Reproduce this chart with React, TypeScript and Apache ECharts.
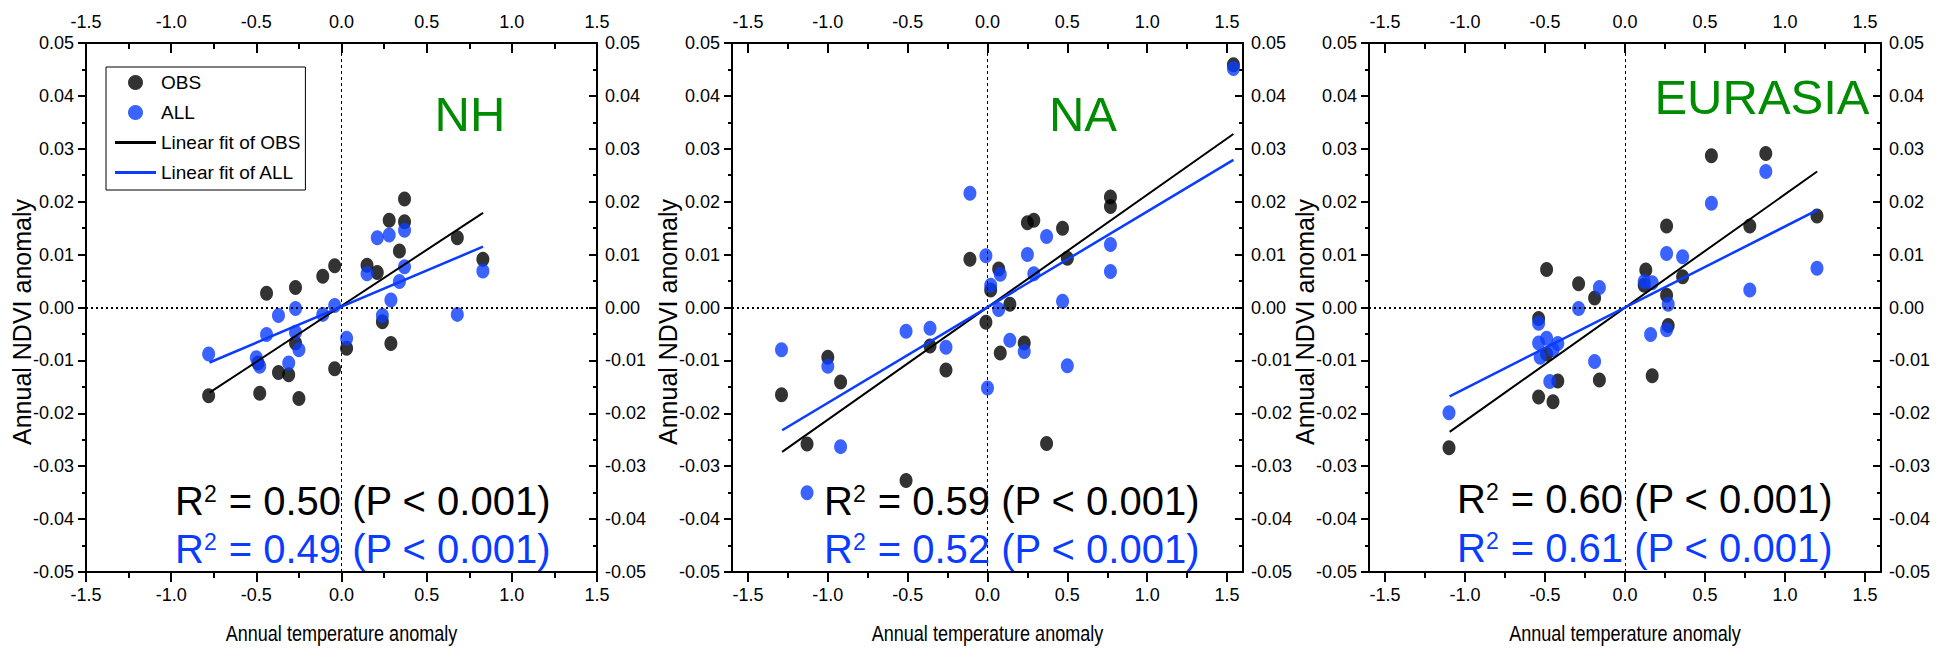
import React, { useEffect, useRef } from "react";
import * as echarts from "echarts";

// ---------- data ----------
const panelNames = ["NH", "NA", "EURASIA"];
const xMajor = [-1.5, -1, -0.5, 0, 0.5, 1, 1.5];
const xMinor = [-1.25, -0.75, -0.25, 0.25, 0.75, 1.25];
const xRanges = [[-1.5, 1.5], [-1.6, 1.6], [-1.6, 1.6]];
const yRange = [-0.05, 0.05];
const r2Obs = ["0.50", "0.59", "0.60"];
const r2All = ["0.49", "0.52", "0.61"];
const legendNames = ["OBS", "ALL", "Linear fit of OBS", "Linear fit of ALL"];

const nhObs = [
  [-0.78, -0.0167], [-0.48, -0.0162], [-0.49, -0.0105], [-0.44, 0.0027], [-0.37, -0.0123],
  [-0.31, -0.0127], [-0.27, 0.0038], [-0.27, -0.0067], [-0.25, -0.0172], [-0.11, 0.0059],
  [-0.04, 0.0079], [-0.04, -0.0116], [0.03, -0.0077], [0.15, 0.008], [0.21, 0.0066],
  [0.24, -0.0027], [0.28, 0.0165], [0.29, -0.0068], [0.34, 0.0107], [0.37, 0.0205],
  [0.37, 0.0162], [0.68, 0.0132], [0.83, 0.0091],
];
const nhAll = [
  [-0.78, -0.0088], [-0.5, -0.0095], [-0.48, -0.0111], [-0.44, -0.0051], [-0.37, -0.0015],
  [-0.31, -0.0105], [-0.27, -0.0002], [-0.27, -0.0047], [-0.25, -0.008], [-0.11, -0.0013],
  [-0.04, 0.0004], [0.03, -0.0058], [0.15, 0.0064], [0.21, 0.0132], [0.24, -0.0015],
  [0.28, 0.0137], [0.29, 0.0014], [0.34, 0.0049], [0.37, 0.0146], [0.37, 0.0077],
  [0.68, -0.0013], [0.83, 0.0069],
];
const nhObsFit = [[-0.775, -0.0161], [0.831, 0.0179]];
const nhAllFit = [[-0.775, -0.0104], [0.831, 0.0115]];

const naObs = [
  [-1.29, -0.0165], [-1.13, -0.0258], [-1.0, -0.0094], [-0.92, -0.0141], [-0.51, -0.0327],
  [-0.36, -0.0073], [-0.26, -0.0118], [-0.11, 0.0091], [-0.01, -0.0028], [0.02, 0.0033],
  [0.07, 0.0073], [0.08, -0.0086], [0.14, 0.0006], [0.23, -0.0067], [0.25, 0.016],
  [0.29, 0.0165], [0.37, -0.0257], [0.47, 0.015], [0.5, 0.0093], [0.77, 0.0209],
  [0.77, 0.0191], [1.54, 0.0459],
];
const naAll = [
  [-1.29, -0.008], [-1.13, -0.035], [-1.0, -0.0111], [-0.92, -0.0263], [-0.51, -0.0045],
  [-0.36, -0.0039], [-0.26, -0.0075], [-0.11, 0.0216], [-0.01, 0.0098], [0.0, -0.0152],
  [0.02, 0.0042], [0.07, -0.0004], [0.08, 0.0063], [0.14, -0.0062], [0.23, -0.0083],
  [0.25, 0.01], [0.29, 0.0064], [0.37, 0.0134], [0.47, 0.0012], [0.5, -0.011],
  [0.77, 0.0119], [0.77, 0.0068], [1.54, 0.0452],
];
const naObsFit = [[-1.286, -0.0273], [1.54, 0.0328]];
const naAllFit = [[-1.286, -0.0232], [1.54, 0.0279]];

const euObs = [
  [-1.1, -0.0265], [-0.54, -0.0021], [-0.54, -0.0169], [-0.49, 0.0072], [-0.49, -0.0088],
  [-0.45, -0.0178], [-0.42, -0.0139], [-0.29, 0.0045], [-0.19, 0.0018], [-0.16, -0.0137],
  [0.12, 0.0042], [0.13, 0.0071], [0.17, -0.0129], [0.26, 0.0154], [0.26, 0.0023],
  [0.27, -0.0034], [0.36, 0.0058], [0.54, 0.0287], [0.78, 0.0154], [0.88, 0.0291],
  [1.2, 0.0173],
];
const euAll = [
  [-1.1, -0.0199], [-0.54, -0.003], [-0.54, -0.0067], [-0.53, -0.0094], [-0.49, -0.0058],
  [-0.47, -0.014], [-0.45, -0.008], [-0.42, -0.0068], [-0.29, -0.0002], [-0.19, -0.0102],
  [-0.16, 0.0038], [0.12, 0.0049], [0.16, -0.0051], [0.17, 0.0047], [0.26, 0.0102],
  [0.26, -0.0042], [0.27, 0.0006], [0.36, 0.0096], [0.54, 0.0197], [0.78, 0.0033],
  [0.88, 0.0257], [1.2, 0.0074],
];
const euObsFit = [[-1.096, -0.0235], [1.201, 0.0257]];
const euAllFit = [[-1.096, -0.0168], [1.201, 0.0184]];

const obsSets = [nhObs, naObs, euObs];
const allSets = [nhAll, naAll, euAll];
const obsFits = [nhObsFit, naObsFit, euObsFit];
const allFits = [nhAllFit, naAllFit, euAllFit];

// ---------- styles / layout ----------
const REG = '"Liberation Sans", Arial, sans-serif';
const BLUE = "#0a3cff";
const GREEN = "#008c00";
const gridLefts = [86, 732, 1369];
const gridWidths = [511, 511, 512];
const gridTop = 43;
const gridHeight = 529;
const nameX = [470, 1083, 1762];
const nameY = [114, 114, 97];
const r2Left = [175, 824, 1457];
const r2Y1 = [501, 501, 499];
const r2Y2 = [549, 549, 548];
const TICK_FONT = 18;

const fmtY = (v: number) => (Math.abs(v) < 1e-9 ? "0.00" : v.toFixed(2));
const fmtX = (v: number) => (Math.abs(v) < 1e-9 ? "0.0" : v.toFixed(1));

function buildOption() {
  const grid: any[] = [];
  const xAxis: any[] = [];
  const yAxis: any[] = [];
  const series: any[] = [];
  const graphic: any[] = [];
  const axisLineStyle = { color: "#000", width: 2 };
  const tickLine = { color: "#000", width: 2 };
  const labelStyle = { fontSize: TICK_FONT, fontFamily: REG, color: "#000" };

  for (let i = 0; i < 3; i++) {
    grid.push({ left: gridLefts[i], top: gridTop, width: gridWidths[i], height: gridHeight, containLabel: false });
    const [xmin, xmax] = xRanges[i];
    const baseX = { gridIndex: i, type: "value", min: xmin, max: xmax, splitLine: { show: false } };
    xAxis.push({
      ...baseX, position: "bottom",
      axisLine: { onZero: false, lineStyle: axisLineStyle },
      axisTick: { customValues: xMajor, inside: false, length: 10, lineStyle: tickLine },
      axisLabel: { ...labelStyle, customValues: xMajor, formatter: fmtX, margin: 14 },
    });
    xAxis.push({
      ...baseX, position: "bottom",
      axisLine: { show: false, onZero: false },
      axisTick: { customValues: xMinor, inside: false, length: 6, lineStyle: tickLine },
      axisLabel: { show: false },
    });
    xAxis.push({
      ...baseX, position: "top",
      axisLine: { onZero: false, lineStyle: axisLineStyle },
      axisTick: { customValues: xMajor, inside: true, length: 10, lineStyle: tickLine },
      axisLabel: { ...labelStyle, customValues: xMajor, formatter: fmtX, margin: 12 },
    });
    xAxis.push({
      ...baseX, position: "top",
      axisLine: { show: false, onZero: false },
      axisTick: { customValues: xMinor, inside: true, length: 6, lineStyle: tickLine },
      axisLabel: { show: false },
    });
    const baseY = {
      gridIndex: i, type: "value", min: yRange[0], max: yRange[1], interval: 0.01,
      splitLine: { show: false }, minorSplitLine: { show: false },
      axisLine: { onZero: false, lineStyle: axisLineStyle },
    };
    yAxis.push({
      ...baseY, position: "left",
      axisTick: { inside: false, length: 8, lineStyle: tickLine },
      minorTick: { show: true, splitNumber: 2, length: 4, lineStyle: tickLine },
      axisLabel: { ...labelStyle, formatter: fmtY, margin: 12 },
    });
    yAxis.push({
      ...baseY, position: "right",
      axisTick: { inside: true, length: 8, lineStyle: tickLine },
      minorTick: { show: true, splitNumber: 2, length: 4, lineStyle: tickLine },
      axisLabel: { ...labelStyle, formatter: fmtY, margin: 8 },
    });

    const xi = i * 4;
    const yi = i * 2;
    series.push({
      name: legendNames[0], type: "scatter", xAxisIndex: xi, yAxisIndex: yi,
      data: obsSets[i], symbol: "circle", symbolSize: [13, 15],
      itemStyle: { color: "#000" }, z: 3,
      markLine: {
        silent: true, symbol: ["none", "none"], label: { show: false }, animation: false,
        data: [
          { xAxis: 0, lineStyle: { type: [3, 3], width: 1, color: "#000" } },
          { yAxis: 0, lineStyle: { type: [2, 3], width: 2, color: "#000" } },
        ],
      },
    });
    series.push({
      name: legendNames[1], type: "scatter", xAxisIndex: xi, yAxisIndex: yi,
      data: allSets[i], symbol: "circle", symbolSize: [13, 15],
      itemStyle: { color: BLUE }, z: 4,
    });
    series.push({
      name: legendNames[2], type: "line", xAxisIndex: xi, yAxisIndex: yi,
      data: obsFits[i], symbol: "none", lineStyle: { color: "#000", width: 2 }, itemStyle: { color: "#000" }, z: 5,
    });
    series.push({
      name: legendNames[3], type: "line", xAxisIndex: xi, yAxisIndex: yi,
      data: allFits[i], symbol: "none", lineStyle: { color: BLUE, width: 2.5 }, itemStyle: { color: BLUE }, z: 5,
    });

    graphic.push({
      type: "text", x: gridLefts[i] - 64, y: gridTop + 279, rotation: Math.PI / 2,
      style: { text: "Annual NDVI anomaly", fontSize: 25, fontFamily: REG, fill: "#000", align: "center", verticalAlign: "middle" },
    });
    graphic.push({
      type: "text", x: gridLefts[i] + gridWidths[i] / 2, y: 633, scaleX: 0.82,
      style: { text: "Annual temperature anomaly", fontSize: 22, fontFamily: REG, fill: "#000", align: "center", verticalAlign: "middle" },
    });
    graphic.push({
      type: "text", x: nameX[i], y: nameY[i],
      style: { text: panelNames[i], fontSize: 49, fontFamily: REG, fill: GREEN, align: "center", verticalAlign: "middle" },
    });
    const rich = (color: string) => ({
      m: { fontSize: 40, fontFamily: REG, fill: color, color },
      s: { fontSize: 23, fontFamily: REG, fill: color, color, verticalAlign: "top", padding: [1, 1, 0, 0] },
    });
    graphic.push({
      type: "text", x: r2Left[i], y: r2Y1[i],
      style: { text: `{m|R}{s|2}{m| = ${r2Obs[i]} (P < 0.001)}`, rich: rich("#000"), align: "left", verticalAlign: "middle" },
    });
    graphic.push({
      type: "text", x: r2Left[i], y: r2Y2[i],
      style: { text: `{m|R}{s|2}{m| = ${r2All[i]} (P < 0.001)}`, rich: rich(BLUE), align: "left", verticalAlign: "middle" },
    });
  }

  const lineIcon = "path://M0 0H41V3H0Z";
  return {
    animation: false,
    backgroundColor: "#fff",
    grid,
    xAxis,
    yAxis,
    series,
    graphic,
    legend: {
      data: [
        { name: legendNames[0], icon: "circle" },
        { name: legendNames[1], icon: "circle" },
        { name: legendNames[2], icon: lineIcon },
        { name: legendNames[3], icon: lineIcon },
      ],
      orient: "vertical",
      left: 106,
      top: 67,
      padding: [6, 5, 8, 9],
      itemGap: 11,
      itemWidth: 41,
      itemHeight: 15,
      borderColor: "#000",
      borderWidth: 1,
      textStyle: { fontFamily: REG, fontSize: 19, color: "#000" },
      selectedMode: false,
    },
  };
}

export default function App() {
  const ref = useRef<HTMLDivElement>(null);
  useEffect(() => {
    if (!ref.current) return;
    const chart = echarts.init(ref.current, undefined, { renderer: "svg" });
    chart.setOption(buildOption() as any);
    return () => chart.dispose();
  }, []);
  return (
    <div
      ref={ref}
      style={{ position: "fixed", left: 0, top: 0, width: 1942, height: 653, background: "#fff" }}
    />
  );
}
